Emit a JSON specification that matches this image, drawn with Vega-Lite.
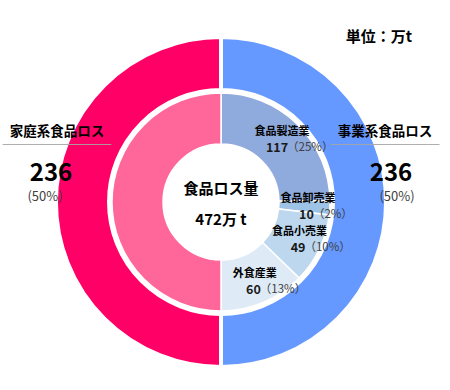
{
  "$schema": "https://vega.github.io/schema/vega-lite/v6.json",
  "width": 442,
  "height": 376,
  "autosize": "none",
  "padding": {"left": 0, "top": 14, "right": 8, "bottom": 0},
  "background": "white",
  "title": {"text": "単位：万t", "anchor": "end", "fontSize": 15, "fontWeight": "bold", "color": "#000000", "dy": 35, "dx": -30},
  "config": {"font": "Noto Sans CJK JP", "view": {"stroke": null}},
  "datasets": {
    "outer": [
      {"group": "事業系食品ロス", "value": 236, "pct": "(50%)", "o": 1},
      {"group": "家庭系食品ロス", "value": 236, "pct": "(50%)", "o": 2}
    ],
    "inner": [
      {"seg": "食品製造業", "label": "食品製造業", "value": 117, "num": "117", "pct": "（25%）", "o": 1},
      {"seg": "食品卸売業", "label": "食品卸売業", "value": 10, "num": "10", "pct": "（2%）", "o": 2},
      {"seg": "食品小売業", "label": "食品小売業", "value": 49, "num": "49", "pct": "（10%）", "o": 3},
      {"seg": "外食産業", "label": "外食産業", "value": 60, "num": "60", "pct": "（13%）", "o": 4},
      {"seg": "家庭系", "label": "", "value": 236, "num": "", "pct": "", "o": 5}
    ],
    "center": [
      {"t": "食品ロス量\n472万 t"}
    ]
  },
  "layer": [
    {
      "data": {"name": "outer"},
      "mark": {"type": "arc", "radius": 165, "radius2": 112, "stroke": "white", "strokeWidth": 4},
      "encoding": {
        "theta": {"field": "value", "type": "quantitative", "stack": true},
        "order": {"field": "o", "type": "quantitative"},
        "color": {"field": "group", "type": "nominal", "legend": null,
          "scale": {"domain": ["事業系食品ロス", "家庭系食品ロス", "食品製造業", "食品卸売業", "食品小売業", "外食産業", "家庭系"],
                    "range": ["#6699FF", "#FF0066", "#8FAADC", "#9DC3E6", "#BDD7EE", "#DEEBF7", "#FF6699"]}}
      }
    },
    {
      "data": {"name": "inner"},
      "mark": {"type": "arc", "radius": 109, "radius2": 58, "stroke": "white", "strokeWidth": 1.5},
      "encoding": {
        "theta": {"field": "value", "type": "quantitative", "stack": true},
        "order": {"field": "o", "type": "quantitative"},
        "color": {"field": "seg", "type": "nominal", "legend": null}
      }
    },
    {
      "data": {"name": "inner"},
      "mark": {"type": "text", "radius": 87, "dy": -8, "fontSize": 11, "fontWeight": "bold", "color": "#000000"},
      "encoding": {
        "theta": {"field": "value", "type": "quantitative", "stack": true},
        "order": {"field": "o", "type": "quantitative"},
        "text": {"field": "label"}
      }
    },
    {
      "data": {"name": "inner"},
      "mark": {"type": "text", "radius": 87, "dy": 8, "dx": 6, "align": "right", "fontSize": 12.5, "fontWeight": "bold", "color": "#1a1a1a"},
      "encoding": {
        "theta": {"field": "value", "type": "quantitative", "stack": true},
        "order": {"field": "o", "type": "quantitative"},
        "text": {"field": "num"}
      }
    },
    {
      "data": {"name": "inner"},
      "mark": {"type": "text", "radius": 87, "dy": 8, "dx": 5, "align": "left", "fontSize": 11.5, "color": "#404040"},
      "encoding": {
        "theta": {"field": "value", "type": "quantitative", "stack": true},
        "order": {"field": "o", "type": "quantitative"},
        "text": {"field": "pct"}
      }
    },
    {
      "data": {"name": "outer"},
      "mark": {"type": "text", "radius": 164, "dy": -70, "fontSize": 13.5, "fontWeight": "bold", "color": "#000000"},
      "encoding": {
        "theta": {"field": "value", "type": "quantitative", "stack": true},
        "order": {"field": "o", "type": "quantitative"},
        "text": {"field": "group"}
      }
    },
    {
      "data": {"name": "outer"},
      "mark": {"type": "text", "radius": 164, "dy": -57, "fontSize": 10, "font": "DejaVu Sans", "color": "#A6A6A6", "text": "──────────────────"},
      "encoding": {
        "theta": {"field": "value", "type": "quantitative", "stack": true},
        "order": {"field": "o", "type": "quantitative"}
      }
    },
    {
      "data": {"name": "outer"},
      "mark": {"type": "text", "radius": 170, "dy": -28, "fontSize": 24, "fontWeight": "bold", "color": "#000000"},
      "encoding": {
        "theta": {"field": "value", "type": "quantitative", "stack": true},
        "order": {"field": "o", "type": "quantitative"},
        "text": {"field": "value", "type": "quantitative"}
      }
    },
    {
      "data": {"name": "outer"},
      "mark": {"type": "text", "radius": 176, "dy": -5, "fontSize": 13, "color": "#404040"},
      "encoding": {
        "theta": {"field": "value", "type": "quantitative", "stack": true},
        "order": {"field": "o", "type": "quantitative"},
        "text": {"field": "pct"}
      }
    },
    {
      "data": {"name": "center"},
      "mark": {"type": "text", "lineBreak": "\n", "lineHeight": 31, "dy": -13, "fontSize": 15, "fontWeight": "bold", "color": "#000000"},
      "encoding": {
        "text": {"field": "t"}
      }
    }
  ]
}
